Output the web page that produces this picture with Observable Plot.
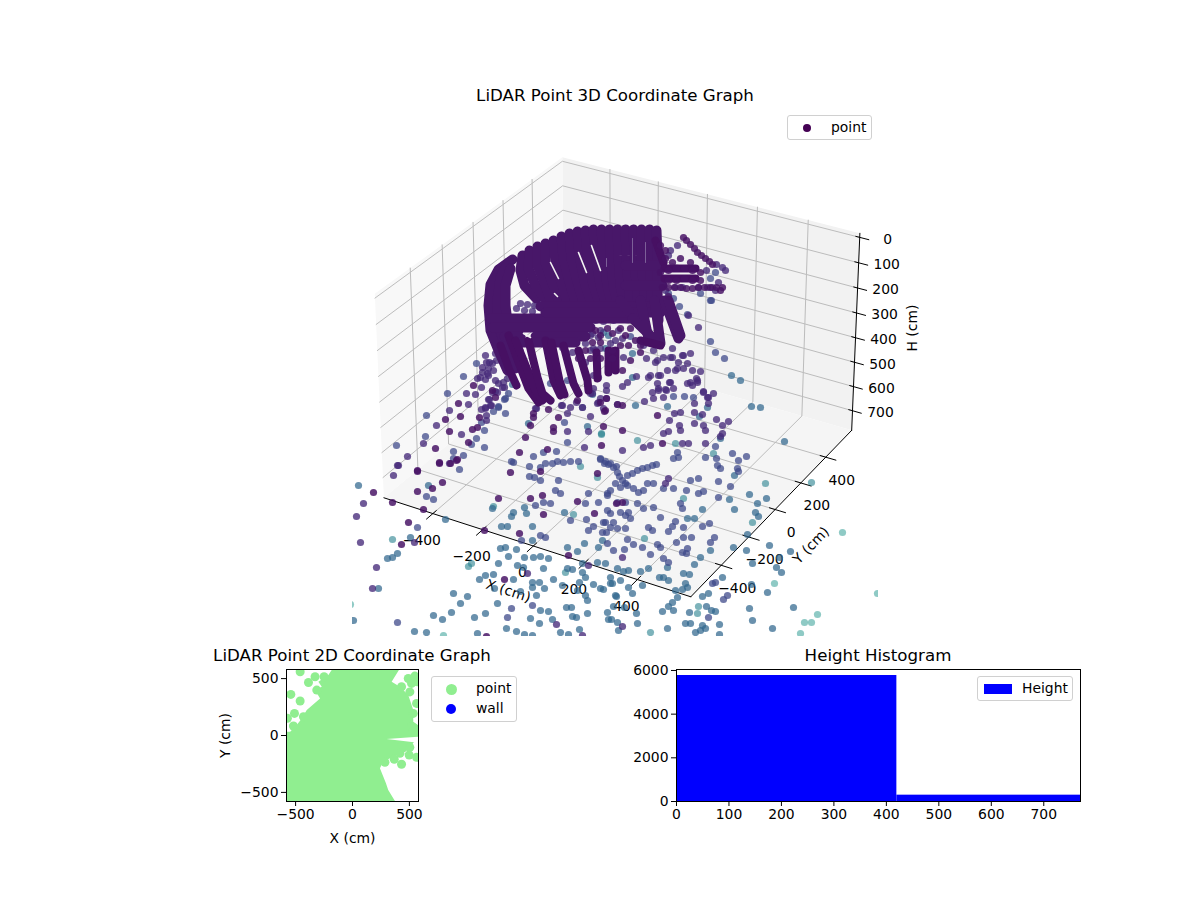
<!DOCTYPE html>
<html>
<head>
<meta charset="utf-8">
<script src="https://cdn.jsdelivr.net/npm/d3@7"></script>
<script src="https://cdn.jsdelivr.net/npm/@observablehq/plot@0.6"></script>
<style>
html,body{margin:0;padding:0;background:#fff}
#page{position:relative;width:1200px;height:900px;overflow:hidden;font-family:"DejaVu Sans",sans-serif;color:#000}
#page>div{position:absolute}
svg{display:block;background:transparent}
.title{font-size:16.67px;line-height:20px;white-space:nowrap;transform:translateX(-50%)}
.legend{background:rgba(255,255,255,.8);border:1px solid #d0d0d0;border-radius:3px;box-sizing:border-box;font-size:13.9px}
.legend span{position:absolute;white-space:nowrap;line-height:16px}
.legend i{position:absolute;display:block;border-radius:50%}
</style>
</head>
<body>
<div id="page"></div>
<script>
// ---------- 3D axes ----------
const xTicks3 = [-400,-200,0,200,400];
const yTicks3 = [-400,-200,0,200,400];
const hTicks3 = [0,100,200,300,400,500,600,700];
const paneX = [-600,600], paneY = [-615,615], hBottom = 782, hPaneTop = -16;

// points as they appear on the projected view, grouped by colour value
const shadeValues = [0.52,0.43,0.33,0.22,0.12,0.05];
const shadeAlpha  = [0.50,0.60,0.72,0.74,0.78,0.84];
const tealLight = [[350,604],[443,635],[774,583],[877,593],[817,614],[804,622],[811,622],[800,633],[842,532]];
const teal = [[392,539],[468,566],[471,563],[493,506],[565,572],[573,514],[597,477],[601,433],[637,440],[675,443],[713,453],[765,483],[811,482],[683,498],[752,522],[644,538],[698,606],[697,613],[650,632],[580,466],[601,434]];
const blue = [[358,485],[428,485],[445,519],[410,537],[387,558],[392,557],[397,553],[378,588],[353,620],[453,593],[467,596],[460,603],[451,612],[433,615],[442,619],[414,631],[426,632],[477,633],[474,617],[485,613],[497,603],[506,628],[516,631],[524,634],[532,635],[530,618],[539,623],[552,619],[560,632],[579,629],[568,634],[576,617],[587,613],[571,607],[566,607],[548,611],[540,610],[536,595],[520,591],[513,579],[494,588],[493,574],[485,575],[479,579],[498,563],[508,556],[500,548],[505,547],[516,549],[524,557],[533,557],[540,556],[548,558],[543,568],[517,565],[523,567],[532,582],[539,582],[532,587],[544,588],[553,579],[562,585],[567,568],[572,569],[582,563],[582,572],[585,577],[579,582],[597,562],[605,563],[617,568],[593,584],[603,589],[612,583],[616,596],[587,600],[585,595],[577,590],[607,612],[608,619],[617,622],[572,616],[501,526],[507,526],[513,512],[511,516],[492,508],[524,507],[532,526],[526,513],[564,512],[532,540],[567,547],[577,551],[584,543],[602,540],[598,547],[528,423],[512,384],[587,426],[592,394],[731,375],[740,380],[751,406],[760,407],[784,441],[707,407],[635,405],[667,406],[699,416],[720,438],[632,377],[729,499],[734,475],[749,494],[766,498],[757,503],[755,512],[758,516],[702,509],[734,509],[694,518],[687,518],[747,534],[700,557],[710,550],[733,547],[746,550],[769,545],[790,551],[779,557],[752,563],[776,567],[781,572],[694,564],[667,567],[648,568],[640,571],[628,570],[623,571],[663,577],[683,573],[689,574],[659,577],[668,580],[642,585],[628,587],[632,593],[610,577],[610,583],[620,580],[600,588],[685,583],[687,587],[675,590],[682,589],[722,577],[751,584],[708,593],[702,596],[767,592],[749,608],[793,607],[752,620],[772,628],[719,634],[677,597],[672,602],[668,606],[662,611],[673,610],[706,606],[711,610],[715,611],[689,612],[719,624],[637,623],[611,619],[615,595],[624,607],[636,613],[667,628],[685,623],[690,623],[702,625],[695,632],[700,630],[705,628],[618,630],[613,606],[603,332],[608,335],[605,348],[632,353]];
const slate = [[459,469],[426,496],[433,499],[417,527],[397,622],[511,608],[507,617],[532,605],[540,480],[529,476],[534,477],[535,505],[543,502],[550,503],[560,493],[555,490],[558,480],[570,520],[586,519],[588,493],[585,503],[598,502],[607,493],[605,522],[606,532],[588,530],[593,526],[617,528],[610,527],[521,540],[540,535],[545,537],[607,543],[476,363],[463,376],[447,393],[426,415],[425,436],[396,445],[484,430],[476,438],[471,444],[484,447],[453,451],[463,455],[453,458],[511,461],[533,456],[543,452],[556,451],[529,466],[513,462],[481,422],[505,413],[493,411],[498,406],[504,399],[564,422],[567,442],[617,404],[540,467],[545,463],[552,463],[557,461],[563,462],[570,461],[578,461],[600,458],[605,461],[610,463],[616,466],[710,300],[710,341],[715,352],[724,358],[673,396],[684,396],[693,397],[715,446],[718,481],[730,486],[690,480],[698,478],[686,490],[698,493],[703,491],[673,488],[663,488],[653,483],[647,483],[643,490],[718,497],[680,503],[682,508],[653,507],[660,517],[675,521],[672,526],[668,531],[683,527],[702,526],[709,523],[648,527],[652,530],[627,539],[633,544],[642,547],[613,550],[624,549],[683,537],[691,537],[714,537],[710,542],[676,542],[657,544],[660,547],[650,554],[663,558],[668,562],[682,552],[687,548],[686,553],[715,582],[712,583],[727,595],[723,599],[708,617],[604,463],[600,459],[608,464],[613,467],[617,472],[619,476],[622,480],[625,483],[627,475],[632,473],[637,470],[642,468],[647,467],[652,465],[656,464],[620,487],[627,485],[633,488],[638,492],[615,483],[610,490],[607,495],[617,502],[625,502],[628,512],[625,515],[620,512],[630,518],[637,503],[643,508],[607,510],[610,513],[613,522],[603,522],[602,532],[625,528],[668,293],[679,306],[687,314],[711,300],[700,293],[715,272],[710,278],[630,336],[530,372],[550,383],[567,380],[505,398],[508,393],[498,407],[582,407],[673,298],[677,452],[673,458],[678,457],[705,457],[716,458],[732,453],[746,456],[738,460],[717,465],[720,468],[737,468],[738,471]];
const violet = [[397,465],[393,475],[363,503],[356,516],[360,542],[376,567],[372,588],[414,542],[527,573],[556,624],[582,635],[588,565],[622,626],[622,557],[622,450],[449,410],[468,404],[436,425],[423,443],[407,456],[398,465],[461,434],[449,463],[486,415],[486,420],[491,405],[485,407],[481,409],[489,399],[475,394],[466,393],[481,387],[477,378],[485,379],[482,372],[488,368],[488,375],[493,370],[496,360],[492,363],[486,362],[507,378],[504,387],[498,383],[495,391],[536,408],[561,405],[567,413],[590,416],[588,431],[567,431],[584,447],[576,402],[582,407],[688,315],[698,327],[713,393],[703,391],[707,397],[700,371],[692,370],[683,368],[677,368],[697,382],[696,378],[690,382],[687,363],[678,362],[672,357],[663,357],[657,360],[690,353],[683,355],[675,370],[667,370],[670,382],[660,375],[650,375],[648,377],[636,376],[627,382],[622,386],[665,389],[658,390],[652,392],[653,398],[663,397],[644,401],[694,403],[708,403],[674,413],[680,412],[694,412],[702,414],[716,419],[669,420],[694,423],[703,425],[728,421],[722,425],[679,425],[680,430],[668,431],[663,433],[705,430],[722,433],[720,436],[643,447],[650,445],[682,443],[688,443],[705,443],[668,478],[665,483],[677,245],[670,250],[668,255],[716,264],[722,267],[725,270],[706,270],[707,287],[718,282],[712,287],[715,290],[698,287],[682,287],[675,287],[665,290],[485,355],[482,367],[495,380],[503,382],[502,387],[497,392],[492,392],[488,399],[490,405],[485,408],[489,362],[495,353],[487,373],[480,377],[577,332],[570,342],[585,343],[590,335],[600,330],[572,352],[590,350],[595,350],[585,362],[570,333],[563,335],[556,342],[562,347],[562,405],[598,337],[592,333],[603,321],[613,320],[595,320],[618,330],[622,338],[610,343],[615,340],[600,348],[593,348],[608,353],[623,357],[643,345],[646,358],[653,350],[655,362],[672,348],[670,357],[682,355],[680,335],[658,375],[657,383],[669,382],[673,388],[666,390],[658,388],[606,385],[606,390],[600,398],[606,398],[597,403],[603,408],[593,388],[592,393],[593,375],[598,377],[687,383],[692,385],[697,380],[703,392],[708,397],[590,393],[598,402],[570,407],[535,408],[520,303],[527,304],[534,305],[540,303],[516,308],[524,310],[532,311]];
const plum = [[417,471],[439,463],[450,463],[456,460],[442,482],[432,488],[417,491],[392,502],[423,509],[408,522],[373,492],[401,544],[484,530],[504,579],[486,636],[498,498],[530,498],[519,533],[510,472],[540,471],[543,514],[577,501],[597,473],[594,513],[616,503],[568,555],[542,495],[458,403],[445,419],[460,416],[449,431],[435,448],[417,470],[439,462],[472,429],[477,427],[468,442],[457,459],[519,452],[547,449],[525,437],[530,425],[479,417],[495,397],[492,390],[473,385],[548,409],[533,413],[533,417],[558,417],[553,427],[553,431],[603,426],[601,445],[604,411],[600,402],[606,398],[622,405],[617,404],[605,410],[657,415],[622,430],[662,443],[622,502],[683,237],[722,287],[720,290],[577,400],[622,370],
 [686,240],[690,244],[694,248],[697,252],[701,255],[705,258],[709,261],[712,264],[660,272],[668,270],[676,268],[684,268],[692,270],[700,272],[690,262],[680,258],[672,262],[665,258],[662,287],[668,287],[674,287],[680,287],[686,288],[692,288],[698,287],[704,287],[710,287],[716,287],[668,280],[676,280],[684,278],[692,280],[700,280],[665,250],[660,245],[668,296],
 [595,330],[600,335],[607,328],[612,333],[620,328],[625,335],[630,328],[628,345],[620,345],[635,340],[640,345],[612,350],[600,342],[592,342],[585,350],[578,358],[590,358],[600,358],[612,358],[630,360],[640,352]];

// the dense dark mass: strokes read along the ribs of the point cloud
const massRibs = [
  [[512,259],[498,269],[490,284],[488,305],[490,330],[498,350],[507,370]],
  [[508,262],[500,277],[497,300],[498,325],[505,345],[515,368]],
  [[510,268],[505,285],[505,305],[508,330],[518,350]],
  [[522,255],[520,270],[524,285],[536,298]],
  [[529,250],[528,268],[535,285],[546,300]],
  [[537,246],[537,265],[545,285],[552,305]],
  [[545,243],[545,262],[553,285],[560,305]],
  [[553,240],[555,262],[562,285],[568,305]],
  [[561,236],[563,258],[570,285],[576,305]],
  [[569,233],[571,258],[578,285],[584,305]],
  [[577,231],[579,255],[585,285],[592,305]],
  [[585,230],[587,255],[593,285],[600,305]],
  [[593,229],[595,255],[600,285],[606,305]],
  [[601,229],[603,255],[607,285],[612,305]],
  [[609,229],[610,255],[613,285],[618,305]],
  [[617,229],[618,255],[620,285],[624,305]],
  [[625,229],[626,255],[628,285],[630,305]],
  [[633,229],[634,255],[636,285],[638,305]],
  [[641,229],[641,255],[643,285],[645,305]],
  [[649,229],[650,255],[650,285],[652,305]],
  [[656,230],[657,258],[657,290],[658,320]],
  [[490,318],[640,318]],
  [[492,327],[590,327]],
  [[504,336],[520,336]],
  [[535,336],[585,336]],
  [[515,342],[575,342]],
  [[540,306],[660,306]],
  [[545,312],[660,312]],
  [[620,300],[635,320]],
  [[640,300],[648,338]],
  [[654,300],[660,343]],
  [[632,318],[655,340]],
  [[625,265],[660,265]],
  [[625,285],[662,285]],
  [[664,300],[672,322],[678,338]],
  [[668,300],[680,335]]
];
const massLegs = [
  [[500,345],[509,370],[516,385]],
  [[508,335],[520,367],[528,388],[538,402]],
  [[515,340],[528,372],[535,390],[542,400]],
  [[528,340],[537,377],[542,393],[550,400]],
  [[545,340],[553,380],[560,395]],
  [[551,342],[559,380],[564,394]],
  [[563,345],[573,383],[578,393]],
  [[578,350],[587,380],[588,390]],
  [[596,352],[597,378]],
  [[608,350],[608,372]],
  [[615,350],[615,370]],
  [[655,240],[663,262]],
  [[640,340],[660,345]],
  [[664,268],[695,268]],
  [[664,278],[695,278]]
];
const massGaps = [
  [[550,262],[558,278]],[[578,252],[586,272]],[[591,245],[600,270]],[[554,293],[557,296]],[[523,333],[530,337]]
];
const massSeams = [[[632,238],[632,262]],[[645,242],[645,262]],[[606,258],[606,266]]];

// ---------- 2D scatter, cm ----------
const floorOutline = [[-577,-575],[373,-575],[314,-478],[294,-420],[241,-288],[270,-230],[387,-171],[470,-140],[540,-60],[300,-31],[577,-10],[577,92],[534,121],[534,224],[490,355],[417,428],[344,472],[408,575],[-183,575],[-212,531],[-300,472],[-270,428],[-329,399],[-285,326],[-402,224],[-446,150],[-490,92],[-548,34],[-577,34]];
const floorPoints = [[-460,560],[-387,466],[-329,516],[-250,516],[-542,361],[-460,303],[-510,194],[-572,151],[-519,83],[-431,165],[-314,399],[431,-253],[367,-209],[285,-235],[498,-171],[504,-104],[563,-192],[431,-98],[417,-156],[519,458],[490,501],[569,472],[548,522],[504,383],[563,282],[534,194],[519,77],[534,34],[431,428]];
const ticks2D = [-500,0,500];

// ---------- histogram ----------
const histEdges = [0,420,770];
const histCounts = [5770,290];
const histXTicks = [0,100,200,300,400,500,600,700];
const histYTicks = [0,2000,4000,6000];

// ---------- perspective of the 3D box, registered on positions ----------
const [xl,xh]=paneX,[yl,yh]=paneY;
const anchors=[
  [xl,yl,hBottom,383,496],[xh,yl,hBottom,689,595],[xh,yh,hBottom,851,431],
  [xl,yh,hPaneTop,561.5,156],[xh,yh,hPaneTop,860,232.7],[xl,yl,hPaneTop,374.5,293],
  [-400,yl,hBottom,432,513],[-200,yl,hBottom,483,530],[0,yl,hBottom,533,546],[200,yl,hBottom,585,562],[400,yl,hBottom,635,578],
  [xh,-400,hBottom,721.7,566],[xh,-200,hBottom,749,537],[xh,0,hBottom,775.7,509],[xh,200,hBottom,801.7,482.7],[xh,400,hBottom,826.7,456],
  [xh,yh,0,859.5,236.7],[xh,yh,200,856.7,287],[xh,yh,400,854,337],[xh,yh,700,850.7,410],
  [-400,yh,hPaneTop,610,169],[-200,yh,hPaneTop,658,182],[0,yh,hPaneTop,707,194],[200,yh,hPaneTop,757,207],[400,yh,hPaneTop,807,219],
  [xl,-400,hPaneTop,409,269],[xl,-200,hPaneTop,441,245],[xl,0,hPaneTop,473,222],[xl,200,hPaneTop,503,200],[xl,400,hPaneTop,532,178],
  [400,yh,hBottom,800,416]
];
const nx=x=>x/600, ny=y=>y/600, nh=h=>(h-385)/385;
function solve(A,b){
  const n=b.length,M=A.map((r,i)=>[...r,b[i]]);
  for(let c=0;c<n;c++){
    let p=c;for(let r=c+1;r<n;r++)if(Math.abs(M[r][c])>Math.abs(M[p][c]))p=r;
    [M[c],M[p]]=[M[p],M[c]];
    for(let r=0;r<n;r++){if(r===c)continue;const f=M[r][c]/M[c][c];for(let k=c;k<=n;k++)M[r][k]-=f*M[c][k];}
  }
  return M.map((r,i)=>r[n]/r[i]);
}
const rowsLS=[],rhsLS=[];
anchors.forEach(([x,y,h,u,v])=>{
  const X=nx(x),Y=ny(y),Z=nh(h),U=u/500,V=v/500;
  rowsLS.push([X,Y,Z,1,0,0,0,0,-U*X,-U*Y,-U*Z]);rhsLS.push(U);
  rowsLS.push([0,0,0,0,X,Y,Z,1,-V*X,-V*Y,-V*Z]);rhsLS.push(V);
});
const ATA=d3.range(11).map(i=>d3.range(11).map(j=>d3.sum(rowsLS,r=>r[i]*r[j])));
const ATb=d3.range(11).map(i=>d3.sum(rowsLS,(r,k)=>r[i]*rhsLS[k]));
const P=solve(ATA,ATb);
function proj(x,y,h){
  const X=nx(x),Y=ny(y),Z=nh(h),w=P[8]*X+P[9]*Y+P[10]*Z+1;
  return {u:500*(P[0]*X+P[1]*Y+P[2]*Z+P[3])/w,v:500*(P[4]*X+P[5]*Y+P[6]*Z+P[7])/w};
}

// ---------- build frame rows ----------
const polyRows=(pts,id)=>pts.map(p=>({...proj(p[0],p[1],p[2]),id}));
const paneFloor=polyRows([[xl,yl,hBottom],[xh,yl,hBottom],[xh,yh,hBottom],[xl,yh,hBottom]],"f");
const paneLeft=polyRows([[xl,yl,hBottom],[xl,yh,hBottom],[xl,yh,hPaneTop],[xl,yl,hPaneTop]],"l");
const paneBack=polyRows([[xl,yh,hBottom],[xh,yh,hBottom],[xh,yh,hPaneTop],[xl,yh,hPaneTop]],"b");
const grid=[];
xTicks3.forEach(x=>grid.push(...polyRows([[x,yl,hBottom],[x,yh,hBottom],[x,yh,hPaneTop]],"x"+x)));
yTicks3.forEach(y=>grid.push(...polyRows([[xh,y,hBottom],[xl,y,hBottom],[xl,y,hPaneTop]],"y"+y)));
hTicks3.forEach(h=>grid.push(...polyRows([[xl,yl,h],[xl,yh,h],[xh,yh,h]],"h"+h)));
const axisLines=[
  ...polyRows([[xl,yl,hBottom],[xh,yl,hBottom]],"ax"),
  ...polyRows([[xh,yl,hBottom],[xh,yh,hBottom]],"ay"),
  ...polyRows([[xh,yh,hBottom],[xh,yh,hPaneTop]],"ah")
];
const tickSegs=[
  ...xTicks3.flatMap(t=>polyRows([[t,yl+22,hBottom],[t,yl-40,hBottom]],"tx"+t)),
  ...yTicks3.flatMap(t=>polyRows([[xh-22,t,hBottom],[xh+40,t,hBottom]],"ty"+t)),
  ...hTicks3.flatMap(t=>polyRows([[xh-15,yh,t],[xh+35,yh,t]],"th"+t))
];
const fmt=v=>String(v).replace("-","\u2212");
const xLabels=xTicks3.map(t=>({...proj(t,yl,hBottom),s:fmt(t)}));
const yLabels=yTicks3.map(t=>({...proj(xh,t,hBottom),s:fmt(t)}));
const hLabels=hTicks3.map(t=>({...proj(xh,yh,t),s:fmt(t)}));
const ribRows=(list,prefix)=>list.flatMap((r,i)=>r.map(p=>({u:p[0],v:p[1],id:prefix+i})));

const font={fontFamily:"DejaVu Sans, sans-serif"};
const uv={x:"u",y:"v"};
const shadeMark=(pts,i)=>Plot.dot(pts,{x:d=>d[0],y:d=>d[1],r:3.6,fill:()=>shadeValues[i],fillOpacity:shadeAlpha[i],stroke:"none",clip:true});

const main=Plot.plot({
  width:1200,height:636,
  marginLeft:352,marginRight:322,marginTop:120,marginBottom:0,
  style:{...font,background:"transparent",overflow:"visible"},
  x:{domain:[352,878],axis:null},
  y:{domain:[120,636],reverse:true,axis:null},
  color:{type:"linear",scheme:"viridis",domain:[0,1]},
  marks:[
    Plot.line(paneBack,{...uv,fill:"#f2f2f2",stroke:"none"}),
    Plot.line(paneLeft,{...uv,fill:"#f8f8f8",stroke:"none"}),
    Plot.line(paneFloor,{...uv,fill:"#f5f5f5",stroke:"none"}),
    Plot.line(grid,{...uv,z:"id",stroke:"#bcbcbc",strokeWidth:1}),
    Plot.line(axisLines,{...uv,z:"id",stroke:"#000",strokeWidth:1}),
    Plot.line(tickSegs,{...uv,z:"id",stroke:"#000",strokeWidth:1}),
    Plot.text(xLabels,{...uv,text:"s",dx:-11,dy:27,fontSize:13.9,fill:"#000"}),
    Plot.text(yLabels,{...uv,text:"s",dx:16,dy:23,fontSize:13.9,fill:"#000"}),
    Plot.text(hLabels,{...uv,text:"s",dx:28,dy:2,fontSize:13.9,fill:"#000"}),
    Plot.text([{...proj(0,yl,hBottom),s:"X (cm)"}],{...uv,text:"s",dx:-25,dy:45,rotate:18,fontSize:13.9,fill:"#000"}),
    Plot.text([{...proj(xh,0,hBottom),s:"Y (cm)"}],{...uv,text:"s",dx:36,dy:36,rotate:-46,fontSize:13.9,fill:"#000"}),
    Plot.text([{...proj(xh,yh,385),s:"H (cm)"}],{...uv,text:"s",dx:57,dy:-6,rotate:-90,fontSize:13.9,fill:"#000"}),
    shadeMark(tealLight,0),shadeMark(teal,1),shadeMark(blue,2),shadeMark(slate,3),shadeMark(violet,4),
    Plot.line(ribRows(massRibs,"r"),{...uv,z:"id",stroke:()=>0.06,strokeWidth:10,strokeLinecap:"round",strokeLinejoin:"round"}),
    Plot.line(ribRows(massLegs,"g"),{...uv,z:"id",stroke:()=>0.04,strokeWidth:8,strokeLinecap:"round",strokeLinejoin:"round"}),
    Plot.line(ribRows(massGaps,"s"),{...uv,z:"id",stroke:"#f3f3f3",strokeWidth:1.6}),
    Plot.line(ribRows(massSeams,"m"),{...uv,z:"id",stroke:"#7c5f98",strokeWidth:1}),
    shadeMark(plum,5)
  ]
});

const scatter=Plot.plot({
  width:400,height:210,
  marginLeft:86,marginRight:182,marginTop:29,marginBottom:49,
  style:{...font,background:"transparent",overflow:"visible"},
  x:{domain:[-580,580]},y:{domain:[-580,580]},
  marks:[
    Plot.line(floorOutline,{x:d=>d[0],y:d=>d[1],fill:"#90ee90",stroke:"none",clip:true}),
    Plot.dot(floorPoints,{x:d=>d[0],y:d=>d[1],r:4.5,fill:"#90ee90",stroke:"none",clip:true}),
    Plot.axisX({ticks:ticks2D,tickSize:5,tickPadding:3,fontSize:13.9,label:"X (cm)",labelAnchor:"center",labelArrow:"none",labelOffset:41,color:"#000"}),
    Plot.axisY({ticks:ticks2D,tickSize:5,tickPadding:3,fontSize:13.9,label:"Y (cm)",labelAnchor:"center",labelArrow:"none",labelOffset:66,color:"#000"}),
    Plot.frame({stroke:"#000",strokeWidth:1})
  ]
});

const histRows=histCounts.map((c,i)=>({x1:histEdges[i],x2:histEdges[i+1],c}));
const hist=Plot.plot({
  width:520,height:210,
  marginLeft:56,marginRight:60,marginTop:29,marginBottom:49,
  style:{...font,background:"transparent",overflow:"visible"},
  x:{domain:[0,770]},y:{domain:[0,6045]},
  marks:[
    Plot.rectY(histRows,{x1:"x1",x2:"x2",y1:0,y2:"c",fill:"#0000ff",inset:0}),
    Plot.axisX({ticks:histXTicks,tickSize:5,tickPadding:3,fontSize:13.9,label:null,tickFormat:"d",color:"#000"}),
    Plot.axisY({ticks:histYTicks,tickSize:5,tickPadding:3,fontSize:13.9,label:null,tickFormat:"d",color:"#000"}),
    Plot.frame({stroke:"#000",strokeWidth:1})
  ]
});

const page=document.getElementById("page");
function place(node,l,t){const d=document.createElement("div");d.style.left=l+"px";d.style.top=t+"px";d.appendChild(node);page.appendChild(d)}
function label(cls,html,l,t,w,h){const d=document.createElement("div");d.className=cls;d.style.left=l+"px";d.style.top=t+"px";if(w)d.style.width=w+"px";if(h)d.style.height=h+"px";d.innerHTML=html;page.appendChild(d)}
place(main,0,0);
place(scatter,200,640);
place(hist,620,640);
label("title","LiDAR Point 3D Coordinate Graph",615,86);
label("title","LiDAR Point 2D Coordinate Graph",352,646);
label("title","Height Histogram",878,646);
const legendDot=(x,y,r,c)=>`<i style="left:${x-r}px;top:${y-r}px;width:${2*r}px;height:${2*r}px;background:${c}"></i>`;
label("legend",legendDot(19,12,4,"#440154")+'<span style="left:43px;top:3px">point</span>',787,115,85,25);
label("legend",legendDot(19,12,5.5,"#90ee90")+legendDot(19,32,5,"#0000ff")+'<span style="left:44px;top:3px">point</span><span style="left:44px;top:23px">wall</span>',431,676,86,46);
label("legend",'<i style="left:6px;top:7px;width:28px;height:10px;border-radius:0;background:#0000ff"></i><span style="left:44px;top:3px">Height</span>',977,676,96,25);
</script>
</body>
</html>
